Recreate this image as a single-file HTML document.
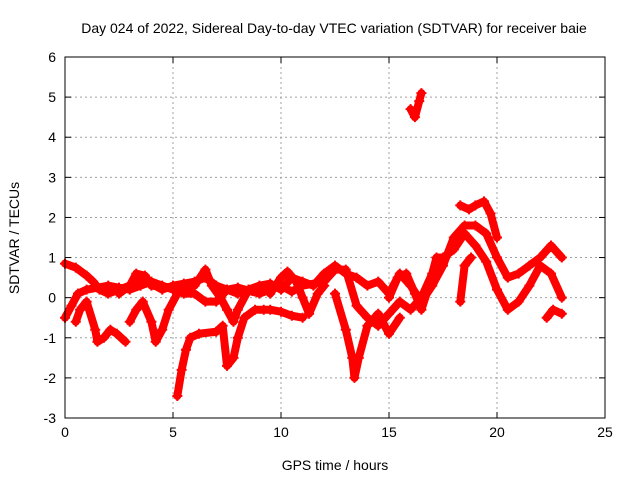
<!DOCTYPE html>
<html><head><meta charset="utf-8"><style>
body{margin:0;background:#fff}
svg{display:block;font-family:"Liberation Sans",sans-serif}
</style></head><body>
<svg id="chart" width="640" height="480" xmlns="http://www.w3.org/2000/svg">
<text x="334" y="33" font-size="14" text-anchor="middle">Day 024 of 2022, Sidereal Day-to-day VTEC variation (SDTVAR) for receiver baie</text>
<text x="335" y="470" font-size="14" text-anchor="middle">GPS time / hours</text>
<text transform="translate(19,238) rotate(-90)" font-size="14" text-anchor="middle">SDTVAR / TECUs</text>
<g id="grid"></g>
<g id="ticks"></g>
<g id="series"></g>
<rect x="65" y="57" width="540" height="361" fill="none" stroke="#000" stroke-width="1"/>
</svg>
<script>
const xTicks=[0,5,10,15,20,25];
const yTicks=[-3,-2,-1,0,1,2,3,4,5,6];
const trackA=[[0,0.85],[0.5,0.75],[1,0.55],[1.3,0.4],[1.6,0.2],[2,0.1],[2.5,0.2],[3,0.3],[3.5,0.5],[4,0.35],[4.5,0.2],[5,0.3],[5.5,0.35],[6,0.4],[6.5,0.5],[7,0.3],[7.5,0.2],[8,0.1],[8.5,0.2],[9,0.3],[9.5,0.35],[10,0.2],[10.5,0.5],[11,0.4],[11.5,0.3],[12,0.6],[12.5,0.8],[13,0.6],[13.5,0.5],[14,0.3],[14.5,0.4],[15,0.1],[15.5,0.6],[16,0.3],[16.5,-0.1],[17,0.3],[17.5,0.8],[18,1.5],[18.5,1.8],[19,1.8],[19.5,1.6],[20,1.0],[20.5,0.5],[21,0.6],[21.5,0.8],[22,1.0],[22.5,1.3],[23,1.0]];
const trackB=[[0,-0.5],[0.3,-0.2],[0.6,0.1],[1,0.2],[1.5,0.25],[2,0.3],[2.5,0.25],[3,0.2],[3.5,0.3],[4,0.4],[4.5,0.3],[5,0.2],[5.5,0.1],[6,0.1],[6.5,-0.1],[7,-0.1],[7.5,0.2],[8,0.25],[9,0.1],[10,0.3],[10.5,0.15],[11,0.3],[12,0.4],[12.5,0.7],[13,0.7],[13.5,-0.2],[14,-0.5],[14.5,-0.7],[15,-0.4],[15.5,-0.1],[16,-0.3],[16.5,0],[17,0.6],[17.5,1.0],[18,1.2],[18.5,1.6],[19,1.3],[19.5,0.9],[20,0.2],[20.5,-0.3],[21,-0.1],[21.5,0.3],[22,0.8],[22.5,0.6],[23,0.0]];
const trackC=[[5.2,-2.45],[5.4,-1.8],[5.6,-1.3],[5.8,-1.0],[6.2,-0.9],[7,-0.85],[7.3,-0.7],[7.5,-1.7],[7.8,-1.5],[8.0,-1.0],[8.3,-0.5],[8.8,-0.3],[9.2,-0.3],[9.5,-0.3],[10,-0.35],[10.5,-0.45],[11,-0.5]];
const trackD=[[0.5,-0.6],[0.7,-0.3],[1,-0.1],[1.4,-0.8],[1.5,-1.1],[1.8,-1.0],[2.1,-0.8],[2.4,-0.9],[2.8,-1.1]];
const trackE=[[3,-0.6],[3.3,-0.3],[3.6,-0.1],[4,-0.6],[4.2,-1.1],[4.5,-0.8],[4.8,-0.3],[5.2,0.1]];
const trackF=[[12.5,0.1],[13,-0.8],[13.3,-1.5],[13.4,-2.0],[13.6,-1.5],[14,-0.7],[14.5,-0.4],[15,-0.9],[15.5,-0.5]];
const trackG=[[16,4.7],[16.2,4.5],[16.4,4.9],[16.5,5.1]];
const trackH=[[18.3,2.3],[18.7,2.2],[19,2.3],[19.4,2.4],[19.7,2.1],[20,1.5]];
const trackI=[[18.3,-0.1],[18.5,0.8],[18.8,1.0]];
const trackJ=[[22.3,-0.5],[22.6,-0.3],[23,-0.4]];
const trackK=[[2.5,0.1],[3,0.3],[3.3,0.6],[3.7,0.55],[4,0.3],[5,0.25],[6,0.3],[6.5,0.7],[6.8,0.3],[7.2,0.0],[7.5,-0.3],[7.8,-0.6],[8.0,-0.3],[8.5,0.2]];
const trackL=[[9.5,0.1],[10,0.5],[10.3,0.65],[10.7,0.4],[11,0.0],[11.3,-0.4],[11.7,0.1],[12,0.3]];
const trackM=[[15,0.0],[15.4,0.5],[15.8,0.6],[16.2,0.1],[16.5,-0.3],[16.8,0.2],[17.2,1.0],[17.6,1.0]];
const tracks=[trackA,trackB,trackC,trackD,trackE,trackF,trackG,trackH,trackI,trackJ,trackK,trackL,trackM];
const NS='http://www.w3.org/2000/svg';
const X0=65,X1=605,Y0=418,Y1=57;
function xs(v){return X0+(v-0)/(25-0)*(X1-X0);}
function ys(v){return Y0-(v+3)/(6+3)*(Y0-Y1);}
function mk(t,a,p){const e=document.createElementNS(NS,t);for(const k in a)e.setAttribute(k,a[k]);p.appendChild(e);return e;}
const grid=document.getElementById('grid'),ticks=document.getElementById('ticks'),ser=document.getElementById('series');
xTicks.forEach(v=>{const x=xs(v);
 if(v>0&&v<25){const l=mk('line',{x1:x,x2:x,y1:Y1,y2:Y0,stroke:'#a0a0a0','stroke-dasharray':'2,3'},grid);}
 mk('line',{x1:x,x2:x,y1:Y0,y2:Y0-6,stroke:'#000'},ticks);mk('line',{x1:x,x2:x,y1:Y1,y2:Y1+6,stroke:'#000'},ticks);
 const t=mk('text',{x:x,y:Y0+19,'font-size':14,'text-anchor':'middle'},ticks);t.textContent=v;
 });
yTicks.forEach(v=>{const y=ys(v);
 if(v>-3&&v<6){const l=mk('line',{x1:X0,x2:X1,y1:y,y2:y,stroke:'#a0a0a0','stroke-dasharray':'2,3'},grid);}
 mk('line',{x1:X0,x2:X0+6,y1:y,y2:y,stroke:'#000'},ticks);mk('line',{x1:X1,x2:X1-6,y1:y,y2:y,stroke:'#000'},ticks);
 const t=mk('text',{x:X0-9,y:y+5,'font-size':14,'text-anchor':'end'},ticks);t.textContent=v;
 });
tracks.forEach(tr=>{
 const pl=mk('polyline',{points:tr.map(p=>xs(p[0])+','+ys(p[1])).join(' '),fill:'none',stroke:'#ff0000','stroke-width':8,'stroke-linejoin':'round','stroke-linecap':'round'},ser);
 
 
 tr.forEach(p=>{const x=xs(p[0]),y=ys(p[1]);
  const m=mk('path',{d:`M${x-5},${y}H${x+5}M${x},${y-5}V${y+5}`,stroke:'#ff0000','stroke-width':2},ser);
  
  });
});
</script>
</body></html>
